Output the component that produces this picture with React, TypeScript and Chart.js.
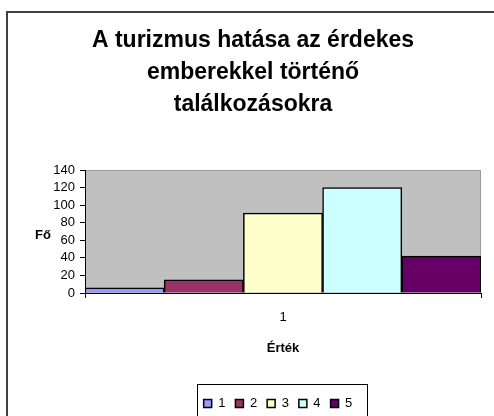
import React, { useEffect, useRef } from "react";
import { Chart, registerables } from "chart.js";

Chart.register(...registerables);

const titleLines = ["A turizmus hatása az érdekes", "emberekkel történő", "találkozásokra"];
const categories = ["1"];
const seriesNames = ["1", "2", "3", "4", "5"];
const seriesValues = [[6], [15], [91], [120], [42]];
const seriesColors = ["#9999FF", "#993366", "#FFFFCC", "#CCFFFF", "#660066"];
const yTitle = "Fő";
const xTitle = "Érték";
const FONT = "Arial, 'Liberation Sans', sans-serif";

const decor = {
  id: "decor",
  afterLayout(chart: any) {
    const lg = chart.legend;
    if (lg) {
      lg.left -= 5;
      lg.right -= 5;
    }
  },
  beforeDraw(chart: any) {
    const { ctx, width, height, chartArea } = chart;
    ctx.save();
    ctx.fillStyle = "#ffffff";
    ctx.fillRect(0, 0, width, height);
    // outer frame
    ctx.strokeStyle = "#404040";
    ctx.lineWidth = 2;
    ctx.beginPath();
    ctx.moveTo(width + 2, 12);
    ctx.lineTo(7, 12);
    ctx.lineTo(7, height + 2);
    ctx.stroke();
    // plot area
    ctx.fillStyle = "#C0C0C0";
    ctx.fillRect(chartArea.left, chartArea.top, chartArea.right - chartArea.left, chartArea.bottom - chartArea.top);
    ctx.strokeStyle = "#9a9a9a";
    ctx.lineWidth = 1;
    ctx.beginPath();
    ctx.moveTo(chartArea.left, chartArea.top + 0.5);
    ctx.lineTo(chartArea.right - 0.5, chartArea.top + 0.5);
    ctx.lineTo(chartArea.right - 0.5, chartArea.bottom);
    ctx.stroke();
    ctx.restore();
  },
  afterDraw(chart: any) {
    const { ctx, chartArea, legend } = chart;
    ctx.save();
    ctx.fillStyle = "#000";
    ctx.font = `bold 13px ${FONT}`;
    ctx.textAlign = "center";
    ctx.textBaseline = "middle";
    ctx.fillText(yTitle, chartArea.left - 42, (chartArea.top + chartArea.bottom) / 2 + 4);
    if (legend && legend.legendHitBoxes && legend.legendHitBoxes.length) {
      const hb = legend.legendHitBoxes;
      const x0 = hb[0].left - 7;
      const last = hb[hb.length - 1];
      const x1 = last.left + last.width + 14;
      ctx.strokeStyle = "#000";
      ctx.lineWidth = 1;
      ctx.strokeRect(Math.round(x0) + 0.5, Math.round(legend.top) - 2.5, Math.round(x1 - x0), 60);
    }
    ctx.restore();
  },
};

export default function App() {
  const ref = useRef<HTMLCanvasElement | null>(null);
  useEffect(() => {
    if (!ref.current) return;
    const chart = new Chart(ref.current, {
      type: "bar",
      data: {
        labels: categories,
        datasets: seriesNames.map((n, i) => ({
          label: n,
          data: seriesValues[i],
          backgroundColor: seriesColors[i],
          borderColor: "#000000",
          borderWidth: 1.5,
          categoryPercentage: 1,
          barPercentage: 1,
        })),
      },
      options: {
        responsive: false,
        animation: false,
        devicePixelRatio: 1,
        layout: { padding: { left: 25, right: 13, top: 0, bottom: -4 } },
        plugins: {
          tooltip: { enabled: false },
          title: {
            display: true,
            text: titleLines,
            color: "#000",
            font: { family: FONT, size: 23, weight: "bold", lineHeight: "32px" },
            padding: { top: 25, bottom: 49 },
          },
          legend: {
            display: true,
            position: "bottom",
            fullSize: false,
            labels: {
              color: "#000",
              font: { family: FONT, size: 13 },
              boxWidth: 8,
              boxHeight: 8,
              padding: 10,
              generateLabels: (chart: any) =>
                chart.data.datasets.map((d: any, i: number) => ({
                  text: d.label,
                  fillStyle: d.backgroundColor,
                  strokeStyle: "#000",
                  lineWidth: 1.5,
                  hidden: false,
                  datasetIndex: i,
                })),
            },
          },
        },
        scales: {
          x: {
            type: "category",
            grid: { display: true, drawOnChartArea: false, drawTicks: true, tickLength: 5, color: "#000", offset: true },
            border: { display: true, color: "#000", width: 1 },
            ticks: { color: "#000", font: { family: FONT, size: 13 }, padding: 12 },
            title: { display: true, text: xTitle, color: "#000", font: { family: FONT, size: 13, weight: "bold" }, padding: { top: 10, bottom: 31 } },
            afterFit: (s: any) => { s.height = 94; },
          },
          y: {
            min: 0,
            max: 140,
            ticks: { stepSize: 20, autoSkip: false, color: "#000", font: { family: FONT, size: 13 }, padding: 5 },
            grid: { display: true, drawOnChartArea: false, drawTicks: true, tickLength: 5, color: "#000" },
            border: { display: true, color: "#000", width: 1 },
            afterFit: (s: any) => { s.width = 60; },
          },
        },
      },
      plugins: [decor],
    });
    return () => chart.destroy();
  }, []);
  return (
    <div style={{ position: "absolute", left: 0, top: 0, width: 494, height: 416 }}>
      <canvas ref={ref} width={494} height={416} style={{ display: "block" }} />
    </div>
  );
}
